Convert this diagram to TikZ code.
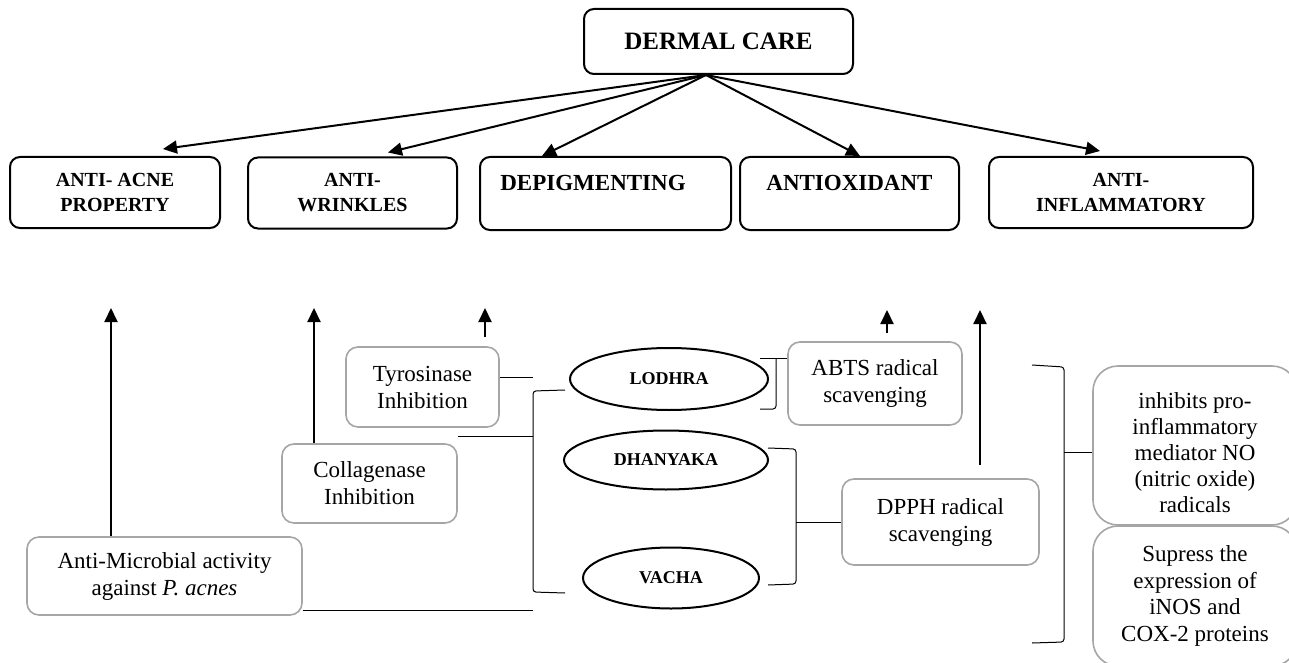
\documentclass[tikz,border=0pt]{standalone}
\usepackage{fontspec}
\setmainfont{Liberation Serif}
\usetikzlibrary{arrows.meta,shapes.geometric,calc}
\definecolor{gbc}{HTML}{A6A6A6}
\begin{document}
\begin{tikzpicture}[x=1pt,y=-1pt,
  topbox/.style={draw,line width=2pt,rounded corners=10pt,align=center,inner sep=0pt,font=\bfseries\fontsize{20}{25}\selectfont},
  gbox/.style={draw=gbc,line width=1.6pt,rounded corners=12pt,align=center,inner sep=0pt,font=\fontsize{23}{27}\selectfont},
  herb/.style={draw,ellipse,line width=2pt,inner sep=0pt,font=\bfseries\fontsize{18}{20}\selectfont},
  arr/.style={line width=2pt,-{Triangle[length=14pt,width=13pt]}},
  brk/.style={line width=1pt,rounded corners=3pt},
  ln/.style={line width=1pt},
]
\useasboundingbox (0,0) rectangle (1289,663);
\clip (0,0) rectangle (1289,663);

% top level
\node[topbox,minimum width=269pt,minimum height=65pt,font=\bfseries\fontsize{25}{28}\selectfont] (dermal) at (718.5,41.5) {DERMAL CARE};
\coordinate (o) at (706,75);

% second row
\node[topbox,minimum width=210pt,minimum height=71pt] (acne) at (115,192.5) {ANTI- ACNE\\PROPERTY};
\node[topbox,minimum width=209pt,minimum height=71pt] (wrink) at (352.5,193) {ANTI-\\WRINKLES};
\node[topbox,minimum width=251pt,minimum height=73pt,font=\bfseries\fontsize{23}{22}\selectfont] (depig) at (605.5,193.5) {DEPIGMENTING\hspace*{25pt}\\\mbox{}};
\node[topbox,minimum width=219pt,minimum height=73pt,font=\bfseries\fontsize{23}{22}\selectfont] (antiox) at (849.5,193.5) {ANTIOXIDANT\\\mbox{}};
\node[topbox,minimum width=264pt,minimum height=71pt] (inflam) at (1121,192.5) {ANTI-\\INFLAMMATORY};

\draw[arr] (o) -- ($(acne.north)+(48,-7)$);
\draw[arr] (o) -- ($(wrink.north)+(35.5,-4)$);
\draw[arr] (o) -- ($(depig.north)+(-63.5,0)$);
\draw[arr] (o) -- ($(antiox.north)+(10.5,0)$);
\draw[arr] (o) -- ($(inflam.north)+(-21,-5)$);

% activity boxes
\node[gbox,minimum width=153pt,minimum height=80pt] (tyro) at (422.5,387) {Tyrosinase\\Inhibition};
\node[gbox,minimum width=175pt,minimum height=79pt] (coll) at (369.5,483.5) {Collagenase\\Inhibition};
\node[gbox,minimum width=275pt,minimum height=78pt] (micro) at (164.5,576) {Anti-Microbial activity\\against \textit{P. acnes}};
\node[gbox,minimum width=174pt,minimum height=83pt] (abts) at (875,383.5) {ABTS radical\\scavenging};
\node[gbox,minimum width=197pt,minimum height=86pt] (dpph) at (940.5,522) {DPPH radical\\scavenging};
\node[gbox,minimum width=204pt,minimum height=159pt,rounded corners=25pt] (inhib) at (1195,445.5) {};
\node[align=center,inner sep=0pt,font=\fontsize{23}{26}\selectfont] (inhibt) at (1195,452.5) {inhibits pro-\\inflammatory\\mediator NO\\(nitric oxide)\\radicals};
\node[gbox,minimum width=204pt,minimum height=140pt,rounded corners=25pt,font=\fontsize{23}{26.5}\selectfont] (supr) at (1195,596) {Supress the\\expression of\\iNOS and\\COX-2 proteins};

% herbs
\node[herb,minimum width=198pt,minimum height=62pt] (lodhra) at (669,379) {LODHRA};
\node[herb,minimum width=204pt,minimum height=59pt] (dhan) at (666,460) {DHANYAKA};
\node[herb,minimum width=176pt,minimum height=61pt] (vacha) at (671,578) {VACHA};

% upward arrows
\coordinate (t1) at (111,308);
\coordinate (t2) at (314,308);
\coordinate (t3) at (485,308);
\coordinate (t3s) at (485,337);
\coordinate (t4) at (887,310);
\coordinate (t4s) at (887,333);
\coordinate (t5) at (980,310);
\draw[arr] (t1 |- micro.north) -- (t1);
\draw[arr] (t2 |- coll.north) -- (t2);
\draw[arr] (t3s) -- (t3);
\draw[arr] (t4s) -- (t4);
\draw[arr] ($(t5 |- dpph.north)+(0,-13)$) -- (t5);

% connectors and brackets
\coordinate (lb) at (533,377);
\draw[ln] (tyro.east |- lb) -- (lb);
\draw[brk] (565,390) -- (533,391) -- (533,592) -- (565,593);
\draw[ln] (coll.east |- 0,436) -- (533,436);
\draw[ln] (micro.east |- 0,610) -- (533,610);

\draw[ln] (760,358) -- (abts.west |- 0,358);
\draw[brk] (776,358) -- (776,409) -- (760,409);

\draw[brk] (768,448) -- (796,449) -- (796,584) -- (768,585);
\draw[ln] (796,522) -- (dpph.west |- 0,522);

\draw[brk] (1032,365) -- (1064,367) -- (1064,642) -- (1032,643);
\draw[ln] (1064,452) -- (inhib.west |- 0,452);
\end{tikzpicture}
\end{document}
